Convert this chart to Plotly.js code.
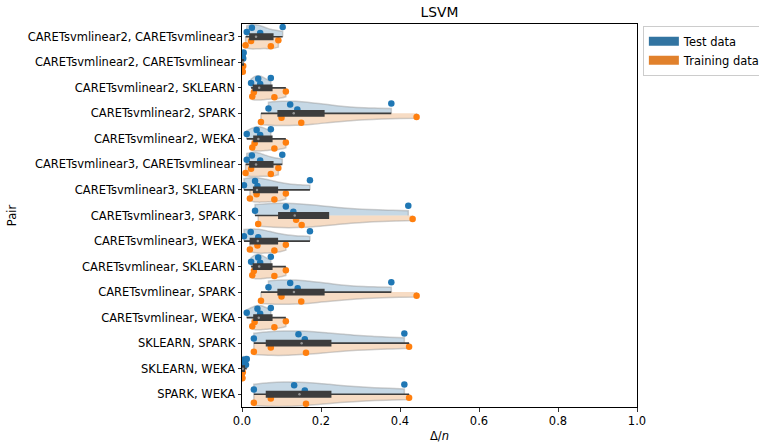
<!DOCTYPE html>
<html>
<head>
<meta charset="utf-8">
<script src="https://cdn.plot.ly/plotly-3.0.1.min.js"></script>
<style>html,body{margin:0;padding:0;background:#fff;}#chart{width:759px;height:445px;}</style>
</head>
<body>
<div id="chart"></div>
<script>
const pairs = [
  "CARETsvmlinear2, CARETsvmlinear3",
  "CARETsvmlinear2, CARETsvmlinear",
  "CARETsvmlinear2, SKLEARN",
  "CARETsvmlinear2, SPARK",
  "CARETsvmlinear2, WEKA",
  "CARETsvmlinear3, CARETsvmlinear",
  "CARETsvmlinear3, SKLEARN",
  "CARETsvmlinear3, SPARK",
  "CARETsvmlinear3, WEKA",
  "CARETsvmlinear, SKLEARN",
  "CARETsvmlinear, SPARK",
  "CARETsvmlinear, WEKA",
  "SKLEARN, SPARK",
  "SKLEARN, WEKA",
  "SPARK, WEKA"
];
const testData = [
  [0.012, 0.025, 0.046, 0.103],
  [0.002, 0.003, 0.003, 0.004],
  [0.023, 0.041, 0.046, 0.073],
  [0.067, 0.122, 0.140, 0.378],
  [0.012, 0.037, 0.046, 0.073],
  [0.012, 0.025, 0.046, 0.102],
  [0.005, 0.033, 0.039, 0.172],
  [0.033, 0.111, 0.130, 0.421],
  [0.005, 0.022, 0.041, 0.172],
  [0.023, 0.041, 0.046, 0.073],
  [0.067, 0.122, 0.141, 0.378],
  [0.012, 0.039, 0.046, 0.073],
  [0.030, 0.143, 0.159, 0.411],
  [0.002, 0.004, 0.010, 0.012],
  [0.030, 0.132, 0.159, 0.411]
];
const trainData = [
  [0.009, 0.023, 0.073, 0.092],
  [0.000, 0.001, 0.002, 0.003],
  [0.026, 0.030, 0.082, 0.111],
  [0.048, 0.100, 0.150, 0.442],
  [0.026, 0.032, 0.082, 0.111],
  [0.009, 0.023, 0.073, 0.092],
  [0.020, 0.037, 0.082, 0.111],
  [0.041, 0.137, 0.151, 0.432],
  [0.020, 0.039, 0.082, 0.111],
  [0.026, 0.030, 0.082, 0.111],
  [0.048, 0.100, 0.150, 0.442],
  [0.026, 0.032, 0.082, 0.111],
  [0.030, 0.073, 0.162, 0.423],
  [0.000, 0.000, 0.001, 0.002],
  [0.030, 0.073, 0.162, 0.423]
];
const seriesNames = ["Test data", "Training data"];
const pointColors = ["#1f77b4", "#ff7f0e"];
const fillColors = ["rgba(50,116,161,0.28)", "rgba(225,129,44,0.28)"];
const legendColors = ["#3274a1", "#e1812c"];

// Scott's rule bandwidth (as seaborn / scipy gaussian_kde)
function scottBw(v) {
  const n = v.length, m = v.reduce((a, b) => a + b, 0) / n;
  const sd = Math.sqrt(v.reduce((a, b) => a + (b - m) * (b - m), 0) / (n - 1));
  return Math.max(sd * Math.pow(n, -0.2), 1e-4);
}
// numpy-style linear percentile
function pct(sorted, p) {
  const pos = (sorted.length - 1) * p, lo = Math.floor(pos), hi = Math.ceil(pos);
  return sorted[lo] + (sorted[hi] - sorted[lo]) * (pos - lo);
}
const combined = pairs.map((_, i) => testData[i].concat(trainData[i]).sort((a, b) => a - b));
const q1 = combined.map(s => pct(s, 0.25));
const med = combined.map(s => pct(s, 0.5));
const q3 = combined.map(s => pct(s, 0.75));
const lof = combined.map((s, i) => Math.min(...s.filter(v => v >= q1[i] - 1.5 * (q3[i] - q1[i]))));
const upf = combined.map((s, i) => Math.max(...s.filter(v => v <= q3[i] + 1.5 * (q3[i] - q1[i]))));

const F = "DejaVu Sans, sans-serif";
const traces = [];
[[testData, 0, "negative", -0.55], [trainData, 1, "positive", 0.55]].forEach(([data, k, side, pp]) => {
  data.forEach((vals, i) => {
    traces.push({
      type: "violin", orientation: "h", x: vals, y: vals.map(() => pairs[i]), name: seriesNames[k],
      side: side, spanmode: "hard", scalemode: "width", width: 0.95, bandwidth: scottBw(vals),
      fillcolor: fillColors[k], line: {color: "rgba(150,150,150,0.45)", width: 1.5},
      points: "all", pointpos: pp, jitter: 0.3,
      marker: {color: pointColors[k], size: 6.5, line: {width: 0}},
      showlegend: false
    });
  });
});
traces.push({
  type: "box", orientation: "h", y: pairs, q1: q1, median: med, q3: q3,
  lowerfence: lof, upperfence: upf,
  width: 0.2, whiskerwidth: 0, fillcolor: "#3d3d3d",
  line: {color: "#3d3d3d", width: 1.7}, showlegend: false
});
traces.push({
  type: "scatter", mode: "markers", x: med, y: pairs, showlegend: false,
  marker: {color: "rgba(255,255,255,0.45)", size: 2.5, line: {width: 0}}
});
seriesNames.forEach((n, k) => {
  traces.push({type: "scatter", mode: "lines", x: [null], y: [null], name: n,
    line: {color: legendColors[k], width: 9}, showlegend: true});
});

const layout = {
  width: 759, height: 445,
  margin: {l: 242, r: 122, t: 24, b: 38},
  paper_bgcolor: "#fff", plot_bgcolor: "#fff",
  font: {family: F, size: 11.5, color: "#000"},
  title: {text: "LSVM", font: {family: F, size: 13.8, color: "#000"}, x: 0.5, xanchor: "center", xref: "paper", y: 0.972, yanchor: "middle"},
  violinmode: "overlay", boxmode: "overlay", violingap: 0, violingroupgap: 0,
  xaxis: {range: [0, 1], autorange: false, tickvals: [0, 0.2, 0.4, 0.6, 0.8, 1.0], tickformat: ".1f",
    showgrid: false, zeroline: false, showline: true, mirror: true, linecolor: "#000", linewidth: 1,
    ticks: "outside", ticklen: 3.5, tickwidth: 0.8, tickcolor: "#000",
    title: {text: "Δ/<i>n</i>", font: {family: F, size: 11.5}, standoff: 4}},
  yaxis: {type: "category", categoryorder: "array", categoryarray: pairs, autorange: false,
    range: [14.5, -0.5],
    showgrid: false, zeroline: false, showline: true, mirror: true, linecolor: "#000", linewidth: 1,
    ticks: "outside", ticklen: 3.5, tickwidth: 0.8, tickcolor: "#000",
    title: {text: "Pair", font: {family: F, size: 11.5}, standoff: 8}},
  legend: {xref: "container", yref: "container", x: 0.847, y: 0.942, xanchor: "left", yanchor: "top", bgcolor: "#fff",
    bordercolor: "#cccccc", borderwidth: 1, font: {family: F, size: 11.5},
    tracegroupgap: 2, itemwidth: 30}
};
Plotly.newPlot("chart", traces, layout, {displayModeBar: false, staticPlot: true});
</script>
</body>
</html>
